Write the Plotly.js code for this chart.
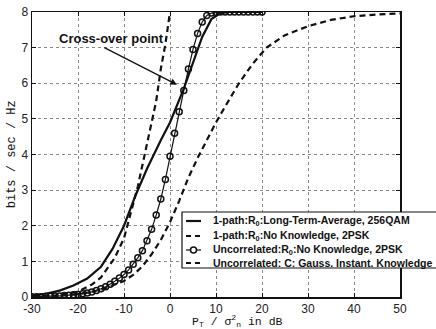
<!DOCTYPE html>
<html>
<head>
<meta charset="utf-8">
<script src="https://cdn.plot.ly/plotly-3.0.1.min.js"></script>
<style>html,body{margin:0;padding:0;background:#fff}#chart{width:436px;height:329px}</style>
</head>
<body>
<div id="chart"></div>
<script>
// Curve A: 1-path, R0, long-term average, 256QAM (solid)
const xA = [-30,-27,-24,-21,-18,-15,-12.5,-10,-7.5,-5,-2,0,3,5,7,9,11,13,16,20];
const yA = [0.04,0.09,0.18,0.32,0.52,0.85,1.35,2.0,2.85,3.6,4.4,4.9,5.85,6.6,7.3,7.8,7.97,8.0,8.0,8.0];
// Curve B: 1-path, R0, no knowledge, 2PSK (dashed)
const xB = [-30,-25,-20,-17,-15,-12,-10,-8,-7,-5,-3,-2,-1,0];
const yB = [0.01,0.04,0.15,0.35,0.55,1.1,1.65,2.6,3.1,4.3,5.5,6.4,7.1,8.0];
// Curve C: uncorrelated, R0, no knowledge, 2PSK (circles)
const xC = [-30,-29,-28,-27,-26,-25,-24,-23,-22,-21,-20,-19,-18,-17,-16,-15,-14,-13,-12,-11,-10,-9,-8,-7,-6,-5,-4,-3,-2,-1,0,1,2,3,4,5,6,7,8,9,10,11,12,13,14,15,16,17,18,19,20];
const yC = [0.01,0.01,0.01,0.02,0.02,0.03,0.03,0.04,0.05,0.06,0.07,0.09,0.11,0.14,0.18,0.23,0.29,0.36,0.44,0.53,0.63,0.76,0.92,1.1,1.3,1.58,1.9,2.3,2.75,3.3,3.95,4.6,5.2,5.8,6.4,6.95,7.4,7.72,7.9,7.97,7.99,8,8,8,8,8,8,8,8,8,8];
// Curve D: uncorrelated, C, Gauss, instant knowledge (dashed)
const xD = [-30,-25,-20,-15,-10,-8,-6,-4,-2,0,2,4,6,8,10,12,15,18,21,25,30,35,40,45,50];
const yD = [0.01,0.03,0.08,0.2,0.45,0.62,0.86,1.2,1.6,2.1,2.7,3.35,3.9,4.4,4.9,5.35,6.0,6.55,7.0,7.35,7.6,7.78,7.88,7.93,7.96];

const names = [
  '1-path:R<sub>0</sub>:Long-Term-Average, 256QAM',
  '1-path:R<sub>0</sub>:No Knowledge, 2PSK',
  'Uncorrelated:R<sub>0</sub>:No Knowledge, 2PSK',
  'Uncorrelated: C: Gauss. Instant. Knowledge'
];
const xTicks = [-30,-20,-10,0,10,20,30,40,50];
const yTicks = [0,1,2,3,4,5,6,7,8];

const ink = '#111';
const dashStyle = '6px,4px';
const traces = [
  {x:xA, y:yA, name:names[0], mode:'lines', line:{color:ink, width:2.2}},
  {x:xB, y:yB, name:names[1], mode:'lines', line:{color:ink, width:2.2, dash:dashStyle}},
  {x:xC, y:yC, name:names[2], mode:'lines+markers', line:{color:ink, width:1.2},
   marker:{symbol:'circle-open', size:6, color:ink, line:{width:1.5, color:ink}}},
  {x:xD, y:yD, name:names[3], mode:'lines', line:{color:ink, width:2.2, dash:dashStyle}}
];

// Manual legend box (paper coords; plot area is 368 x 285 px, origin at 32,297)
const L = 32, W = 368, B = 297, H = 285;
const px = v => (v - L) / W;
const py = v => (B - v) / H;
const rowY = [221, 236, 250, 263];
const legendFont = {family:'Liberation Sans, Arial, sans-serif', size:10.5, weight:'bold', color:ink};

const shapes = [
  {type:'rect', xref:'paper', yref:'paper', x0:px(182), x1:px(445), y0:py(268), y1:py(212),
   fillcolor:'#fff', line:{color:ink, width:1.2}, layer:'above'}
];
const legendDash = [null, '5px,4px', null, '5px,4px'];
rowY.forEach((ry, i) => {
  shapes.push({type:'line', xref:'paper', yref:'paper', x0:px(186), x1:px(201), y0:py(ry), y1:py(ry),
    line:{color:ink, width:i === 2 ? 1.2 : 2.2, dash:legendDash[i] || 'solid'}, layer:'above'});
});
shapes.push({type:'circle', xref:'paper', yref:'paper', x0:px(190.5), x1:px(196.5), y0:py(rowY[2]+3), y1:py(rowY[2]-3),
  fillcolor:'#fff', line:{color:ink, width:1.5}, layer:'above'});

const annotations = [
  {text:'Cross-over point', xref:'x', yref:'y', x:-12.8, y:7.25, showarrow:false,
   font:{family:'Liberation Sans, Arial, sans-serif', size:13, weight:'bold', color:ink}},
  {text:'', xref:'x', yref:'y', x:1.5, y:5.96, axref:'x', ayref:'y', ax:-14.6, ay:7.02,
   showarrow:true, arrowhead:2, arrowsize:1, arrowwidth:1.3, arrowcolor:ink},
  {text:'P<sub>T</sub> / σ<sup>2</sup><sub>n</sub> in dB', xref:'x', yref:'paper', x:14.6, y:-0.049,
   yanchor:'top', showarrow:false,
   font:{family:'Liberation Mono, Courier New, monospace', size:11.5, color:ink}},
  {text:'bits / sec / Hz', xref:'paper', yref:'paper', x:-0.055, y:0.5, textangle:-90,
   xanchor:'center', yanchor:'middle', showarrow:false,
   font:{family:'Liberation Mono, Courier New, monospace', size:12, color:ink}}
];
names.forEach((n, i) => {
  annotations.push({text:n, xref:'paper', yref:'paper', x:px(211), y:py(rowY[i]),
    xanchor:'left', yanchor:'middle', showarrow:false, font:legendFont});
});

const tickFont = {family:'Liberation Sans, Arial, sans-serif', size:12, color:'#222'};
const layout = {
  width:436, height:329,
  margin:{l:32, r:36, t:12, b:32},
  paper_bgcolor:'#fff', plot_bgcolor:'#fff',
  showlegend:false,
  xaxis:{range:[-30,50], tickvals:xTicks, ticktext:xTicks.map(String),
    showgrid:true, gridcolor:'#888', griddash:'dot', gridwidth:1,
    zeroline:false, showline:true, linecolor:ink, linewidth:1.5, mirror:'ticks',
    ticks:'inside', ticklen:4, tickcolor:ink, tickfont:tickFont},
  yaxis:{range:[0,8], tickvals:yTicks, ticktext:yTicks.map(String),
    showgrid:true, gridcolor:'#888', griddash:'dot', gridwidth:1,
    zeroline:false, showline:true, linecolor:ink, linewidth:1.5, mirror:'ticks',
    ticks:'inside', ticklen:4, tickcolor:ink, tickfont:tickFont},
  shapes:shapes,
  annotations:annotations
};

Plotly.newPlot('chart', traces, layout, {displayModeBar:false, staticPlot:true});
</script>
</body>
</html>
